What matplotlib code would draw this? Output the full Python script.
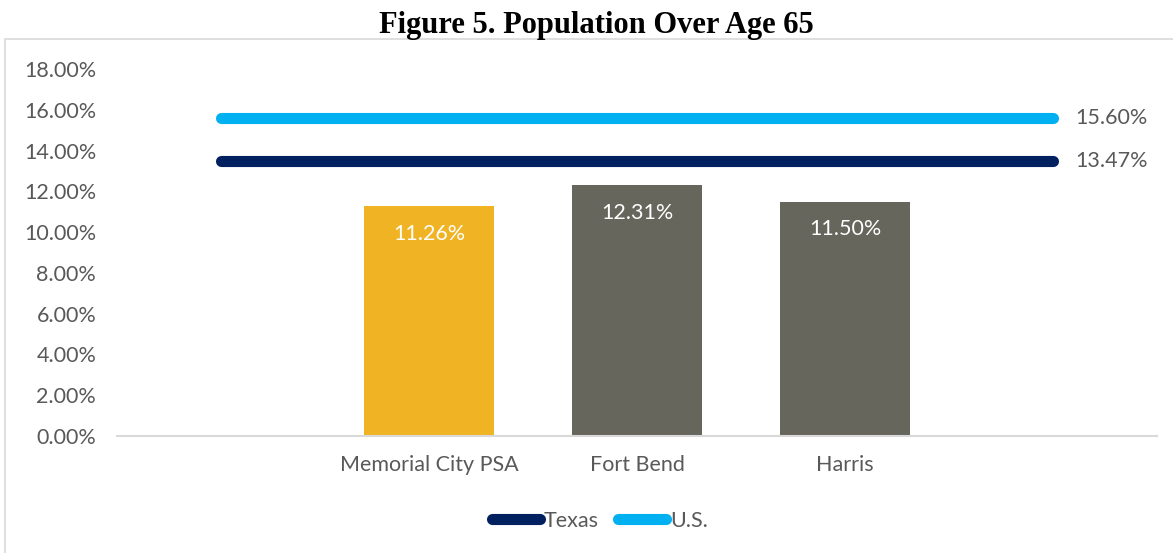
import numpy as np
import matplotlib
matplotlib.use('Agg')
import matplotlib.pyplot as plt
from matplotlib.lines import Line2D
from matplotlib.patches import Rectangle
from matplotlib.ticker import FuncFormatter

#################### DATA ######################
categories=['','Memorial City PSA','Fort Bend','Harris','']
bar_values=[np.nan,11.26,12.31,11.50,np.nan]  # percent
bar_colors=['#F0B323','#F0B323','#66665C','#66665C','#66665C']
texas_val=13.47
us_val=15.60
yticks=np.arange(0,20,2)
title='Figure 5. Population Over Age 65'
################################################
txtcol='#595959'
font='Lato'
fs=15.5

fig=plt.figure(figsize=(11.73,5.53),dpi=100)
ax=fig.add_axes([117/1173,(553-436)/553,(1157-117)/1173,(436-69)/553])

x=np.arange(len(categories))
bars=ax.bar(x,bar_values,width=0.625,color=bar_colors,zorder=2)
for xi,v in zip(x,bar_values):
	if not np.isnan(v):
		ax.annotate('%.2f%%'%v,(xi,v),xytext=(0,-20),textcoords='offset points',ha='center',va='center',color='white',fontsize=fs,family=font)

lw=8
ax.plot(x,[us_val]*len(x),color='#00B0F0',lw=lw,solid_capstyle='round',zorder=3)
ax.plot(x,[texas_val]*len(x),color='#002060',lw=lw,solid_capstyle='round',zorder=3)
for v in [us_val,texas_val]:
	ax.annotate('%.2f%%'%v,(x[-1],v),xytext=(16,0),textcoords='offset points',ha='left',va='center',color=txtcol,fontsize=fs,family=font)

ax.set_xlim(-0.5,len(categories)-0.5)
ax.set_ylim(0,18)
ax.set_yticks(yticks)
ax.yaxis.set_major_formatter(FuncFormatter(lambda v,p:'%.2f%%'%v))
ax.set_xticks(x)
ax.set_xticklabels(categories)
for lab in ax.get_xticklabels()+ax.get_yticklabels():
	lab.set_family(font)
	lab.set_fontsize(fs)
	lab.set_color(txtcol)
ax.tick_params(axis='y',length=0,pad=15)
ax.tick_params(axis='x',length=0,pad=14)
for s in ['top','right','left']:
	ax.spines[s].set_visible(False)
ax.spines['bottom'].set_color('#D9D9D9')
ax.spines['bottom'].set_linewidth(1.5)

handles=[Line2D([],[],color='#002060',lw=lw,solid_capstyle='round'),
	Line2D([],[],color='#00B0F0',lw=lw,solid_capstyle='round')]
leg=fig.legend(handles,['Texas','U.S.'],loc='center',bbox_to_anchor=(600/1173,(553-521)/553),ncol=2,frameon=False,
	handlelength=2.2,handletextpad=0.2,columnspacing=0.9,prop={'family':font,'size':fs})
for t in leg.get_texts():
	t.set_color(txtcol)

fig.patches.append(Rectangle((5/1173,-0.1),1.2,0.1+(553-39)/553,transform=fig.transFigure,fill=False,edgecolor='#D9D9D9',lw=1.2))
fig.text(596/1173,(553-26)/553,title,ha='center',va='center',fontsize=22,fontweight='bold',family='Liberation Serif')

plt.savefig('out.png',dpi=100)
